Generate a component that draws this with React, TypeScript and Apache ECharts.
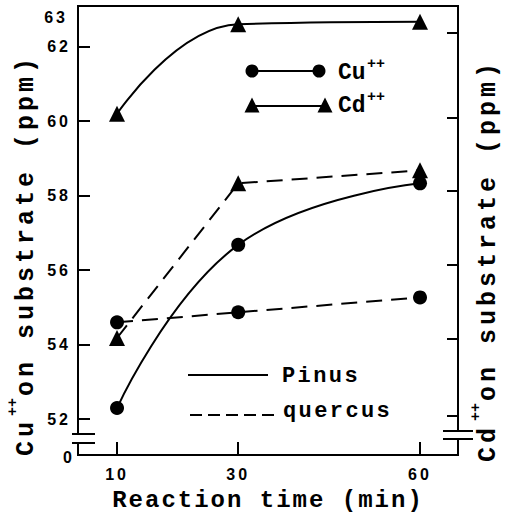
import React, { useEffect, useRef } from 'react';
import * as echarts from 'echarts';

// ---- data ----
const TIMES = [10, 30, 60];
const CU_PINUS = [52.3, 56.68, 58.33];
const CD_PINUS = [60.2, 62.6, 62.67];
const CU_QUERCUS = [54.6, 54.87, 55.27];
const CD_QUERCUS = [54.18, 58.33, 58.68];
const X_TICKS = [10, 30, 60];
const Y_TICKS = [52, 54, 56, 58, 60, 62];
const RIGHT_TICKS = [52.1, 54.15, 56.15, 58.12, 60.1, 62.37];
const Y_TOP_LABEL = '63';
const Y_BREAK_LABEL = '0';
const X_TITLE = 'Reaction time (min)';
const Y_TITLE_REST = 'on substrate (ppm)';
const SUP = '++';

const pts = (ys: number[]) => TIMES.map((t, i) => [t, ys[i]]);

const BLACK = '#000';
const MONO = 'Liberation Mono';
const SANS = 'Liberation Sans';

const css = `
#chartbox text[style*="24px"]{letter-spacing:2px}
#chartbox text[style*="25px"]{letter-spacing:4px}
#chartbox text[style*="22px"]{letter-spacing:2.4px}
#chartbox text[style*="16px"]{letter-spacing:3px}
`;

function txt(x: number, y: number, text: string, size: number, family: string, align: string, rot = 0) {
  return {
    type: 'text',
    x,
    y,
    rotation: rot,
    z: 100,
    style: {
      text,
      fontSize: size,
      fontFamily: family,
      fontWeight: 'bold',
      fill: BLACK,
      align,
      verticalAlign: 'middle',
      textAlign: align,
      textVerticalAlign: 'middle',
    },
  };
}

function ln(x1: number, y1: number, x2: number, y2: number, dash?: number[]) {
  return {
    type: 'line',
    z: 100,
    shape: { x1, y1, x2, y2 },
    style: { stroke: BLACK, lineWidth: 2, lineDash: dash },
  };
}

function tri(cx: number, cy: number, s: number) {
  return {
    type: 'polygon',
    z: 101,
    shape: { points: [[cx, cy - s / 2], [cx - s / 2, cy + s / 2], [cx + s / 2, cy + s / 2]] },
    style: { fill: BLACK },
  };
}

function dot(cx: number, cy: number, r: number) {
  return { type: 'circle', z: 101, shape: { cx, cy, r }, style: { fill: BLACK } };
}

export default function App() {
  const ref = useRef<HTMLDivElement>(null);
  useEffect(() => {
    if (!ref.current) return;
    const chart = echarts.init(ref.current, undefined, { renderer: 'svg' });
    const R = Math.PI / 2;
    const lineSeries = (name: string, data: number[][], symbol: string, size: number, dashed: boolean, yIdx: number) => ({
      name,
      type: 'line',
      yAxisIndex: yIdx,
      data,
      symbol,
      symbolSize: size,
      smooth: dashed ? false : 0.45,
      itemStyle: { color: BLACK },
      lineStyle: { color: BLACK, width: 2, type: dashed ? [16, 9] : 'solid' },
      z: 5,
    });
    chart.setOption({
      animation: false,
      backgroundColor: '#fff',
      grid: { left: 78, right: 56, top: 6, bottom: 58, show: true, borderColor: BLACK, borderWidth: 2, backgroundColor: 'transparent' },
      xAxis: {
        type: 'value',
        min: 3.56,
        max: 66.27,
        splitLine: { show: false },
        axisLine: { show: false },
        axisTick: { show: true, inside: true, length: 13, customValues: X_TICKS, lineStyle: { color: BLACK, width: 2 } },
        axisLabel: { customValues: X_TICKS, color: BLACK, fontFamily: SANS, fontWeight: 'bold', fontSize: 16, margin: 11 },
        name: X_TITLE,
        nameLocation: 'middle',
        nameGap: 33,
        nameTextStyle: { color: BLACK, fontFamily: MONO, fontWeight: 'bold', fontSize: 24 },
      },
      yAxis: [
        {
          type: 'value',
          position: 'left',
          min: 51.04,
          max: 63.09,
          splitLine: { show: false },
          axisLine: { show: false },
          axisTick: { show: true, inside: true, length: 12, customValues: Y_TICKS, lineStyle: { color: BLACK, width: 2 } },
          axisLabel: { customValues: Y_TICKS, color: BLACK, fontFamily: SANS, fontWeight: 'bold', fontSize: 16, margin: 7 },
        },
        {
          type: 'value',
          position: 'right',
          min: 51.04,
          max: 63.09,
          splitLine: { show: false },
          axisLine: { show: false },
          axisTick: { show: true, inside: true, length: 11, customValues: RIGHT_TICKS, lineStyle: { color: BLACK, width: 2 } },
          axisLabel: { show: false },
        },
      ],
      series: [
        lineSeries('Cu++ Pinus', pts(CU_PINUS), 'circle', 14, false, 0),
        lineSeries('Cd++ Pinus', pts(CD_PINUS), 'triangle', 16, false, 1),
        lineSeries('Cu++ quercus', pts(CU_QUERCUS), 'circle', 14, true, 0),
        lineSeries('Cd++ quercus', pts(CD_QUERCUS), 'triangle', 16, true, 1),
      ],
      graphic: [
        // axis breaks
        { type: 'rect', z: 99, shape: { x: 74, y: 435, width: 8, height: 7 }, style: { fill: '#fff' } },
        { type: 'rect', z: 99, shape: { x: 454, y: 432, width: 8, height: 6 }, style: { fill: '#fff' } },
        ln(72, 434, 95, 434),
        ln(72, 443, 95, 443),
        ln(443, 431, 473, 431),
        ln(443, 439, 473, 439),
        txt(75, 457, Y_BREAK_LABEL, 16, SANS, 'right'),
        txt(68, 17, Y_TOP_LABEL, 16, SANS, 'right'),
        // left title
        txt(26, 456, 'Cu', 25, MONO, 'left', R),
        txt(13, 416, SUP, 15, MONO, 'left', R),
        txt(26, 396, Y_TITLE_REST, 25, MONO, 'left', R),
        // right title
        txt(488, 462, 'Cd', 25, MONO, 'left', R),
        txt(476, 421, SUP, 15, MONO, 'left', R),
        txt(488, 401, Y_TITLE_REST, 25, MONO, 'left', R),
        // ion legend
        ln(252, 71, 319, 71),
        dot(252, 71, 6.5),
        dot(319, 71, 6.5),
        txt(338, 73, 'Cu', 23, MONO, 'left'),
        txt(367, 64, SUP, 15, MONO, 'left'),
        ln(252, 106, 325, 106),
        tri(252, 105, 15),
        tri(325, 105, 15),
        txt(338, 106, 'Cd', 23, MONO, 'left'),
        txt(367, 97, SUP, 15, MONO, 'left'),
        // species legend
        ln(188, 375, 268, 375),
        txt(282, 376, 'Pinus', 22, MONO, 'left'),
        ln(190, 415, 280, 415, [12, 6]),
        txt(283, 411, 'quercus', 22, MONO, 'left'),
      ],
    });
    return () => chart.dispose();
  }, []);
  return (
    <div>
      <style>{css}</style>
      <div id="chartbox" ref={ref} style={{ position: 'fixed', left: 0, top: 0, width: 514, height: 517 }} />
    </div>
  );
}
